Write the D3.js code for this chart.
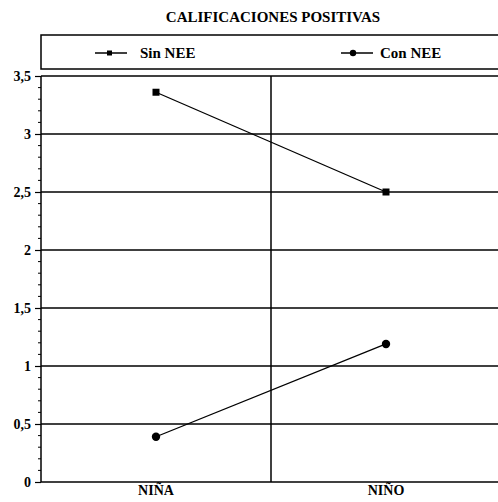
<!DOCTYPE html>
<html><head><meta charset="utf-8">
<script src="https://cdn.jsdelivr.net/npm/d3@7"></script>
<style>body{margin:0;background:#fff}svg{display:block}</style>
</head><body>
<svg id="c" width="498" height="502" font-family="Liberation Serif"></svg>
<script>
const categories = ["NIÑA", "NIÑO"];
const seriesNames = ["Sin NEE", "Con NEE"];
const sinNEE = [3.36, 2.5];
const conNEE = [0.39, 1.19];
const yTicks = [0, 0.5, 1, 1.5, 2, 2.5, 3, 3.5];
const yTickLabels = ["0", "0,5", "1", "1,5", "2", "2,5", "3", "3,5"];
const title = "CALIFICACIONES POSITIVAS";

const FONT = "'Liberation Serif'";
const svg = d3.select("#c");
const L = 41, R = 501, T = 76, B = 482;
const x = d3.scaleBand().domain(categories).range([L, R]);
const y = d3.scaleLinear().domain([0, 3.5]).range([B, T]);

svg.append("text").attr("x", 273).attr("y", 22).attr("text-anchor", "middle")
  .style("font-family", FONT).style("font-size", "15px").style("font-weight", "bold").text(title);

// legend box
svg.append("rect").attr("x", L).attr("y", 35).attr("width", 470).attr("height", 34)
  .attr("fill", "none").attr("stroke", "#000").attr("stroke-width", 1.5);

// gridlines
svg.append("g").selectAll("line").data(yTicks).join("line")
  .attr("x1", L).attr("x2", R).attr("y1", d => y(d)).attr("y2", d => y(d))
  .attr("stroke", "#000").attr("stroke-width", 1.5);

// category separator
svg.append("line").attr("x1", x("NIÑO")).attr("x2", x("NIÑO")).attr("y1", T).attr("y2", B)
  .attr("stroke", "#000").attr("stroke-width", 1.5);

// y axis
const yAxis = d3.axisLeft(y).tickValues(yTicks).tickFormat((d, i) => yTickLabels[i]).tickSize(6).tickPadding(4);
const ga = svg.append("g").attr("transform", `translate(${L},0)`).call(yAxis).attr("font-family", null);
ga.select(".domain").attr("stroke-width", 1.5).attr("d", `M-0,${T}V${B}`);
ga.selectAll(".tick line").attr("stroke-width", 1.2);
ga.selectAll(".tick text").style("font-size", "14px").style("font-weight", "bold").style("font-family", FONT);
const minor = d3.range(0, 3.5001, 0.1).filter(v => Math.abs(v * 2 - Math.round(v * 2)) > 1e-6);
svg.append("g").selectAll("line").data(minor).join("line")
  .attr("x1", L - 3).attr("x2", L).attr("y1", d => y(d)).attr("y2", d => y(d))
  .attr("stroke", "#000").attr("stroke-width", 1);

// x axis labels
const xAxis = d3.axisBottom(x).tickSize(0).tickPadding(3);
const gx = svg.append("g").attr("transform", `translate(0,${B})`).call(xAxis).attr("font-family", null);
gx.select(".domain").remove();
gx.selectAll(".tick text").style("font-size", "14px").style("font-weight", "bold").style("font-family", FONT);

const cx = d => x(d) + x.bandwidth() / 2;
const line = d3.line().x((d, i) => cx(categories[i])).y(d => y(d));
svg.append("path").attr("d", line(sinNEE)).attr("fill", "none").attr("stroke", "#000").attr("stroke-width", 1.3);
svg.append("path").attr("d", line(conNEE)).attr("fill", "none").attr("stroke", "#000").attr("stroke-width", 1.3);
svg.append("g").selectAll("rect").data(sinNEE).join("rect")
  .attr("x", (d, i) => cx(categories[i]) - 3.5).attr("y", d => y(d) - 3.5)
  .attr("width", 7).attr("height", 7).attr("fill", "#000");
svg.append("g").selectAll("circle").data(conNEE).join("circle")
  .attr("cx", (d, i) => cx(categories[i])).attr("cy", d => y(d)).attr("r", 4.2).attr("fill", "#000");

// legend entries
const lg = [{x: 95, tx: 140, name: seriesNames[0], shape: "square"}, {x: 341, tx: 380, name: seriesNames[1], shape: "circle"}];
lg.forEach(e => {
  const g = svg.append("g");
  g.append("line").attr("x1", e.x).attr("x2", e.x + 32).attr("y1", 53).attr("y2", 53).attr("stroke", "#000").attr("stroke-width", 1.5);
  if (e.shape === "square") g.append("rect").attr("x", e.x + 12).attr("y", 50.5).attr("width", 5).attr("height", 5).attr("fill", "#000");
  else g.append("circle").attr("cx", e.x + 12).attr("cy", 53).attr("r", 3.2).attr("fill", "#000");
  g.append("text").attr("x", e.tx).attr("y", 58).style("font-family", FONT).style("font-size", "15px").style("font-weight", "bold").text(e.name);
});
</script>
</body></html>
